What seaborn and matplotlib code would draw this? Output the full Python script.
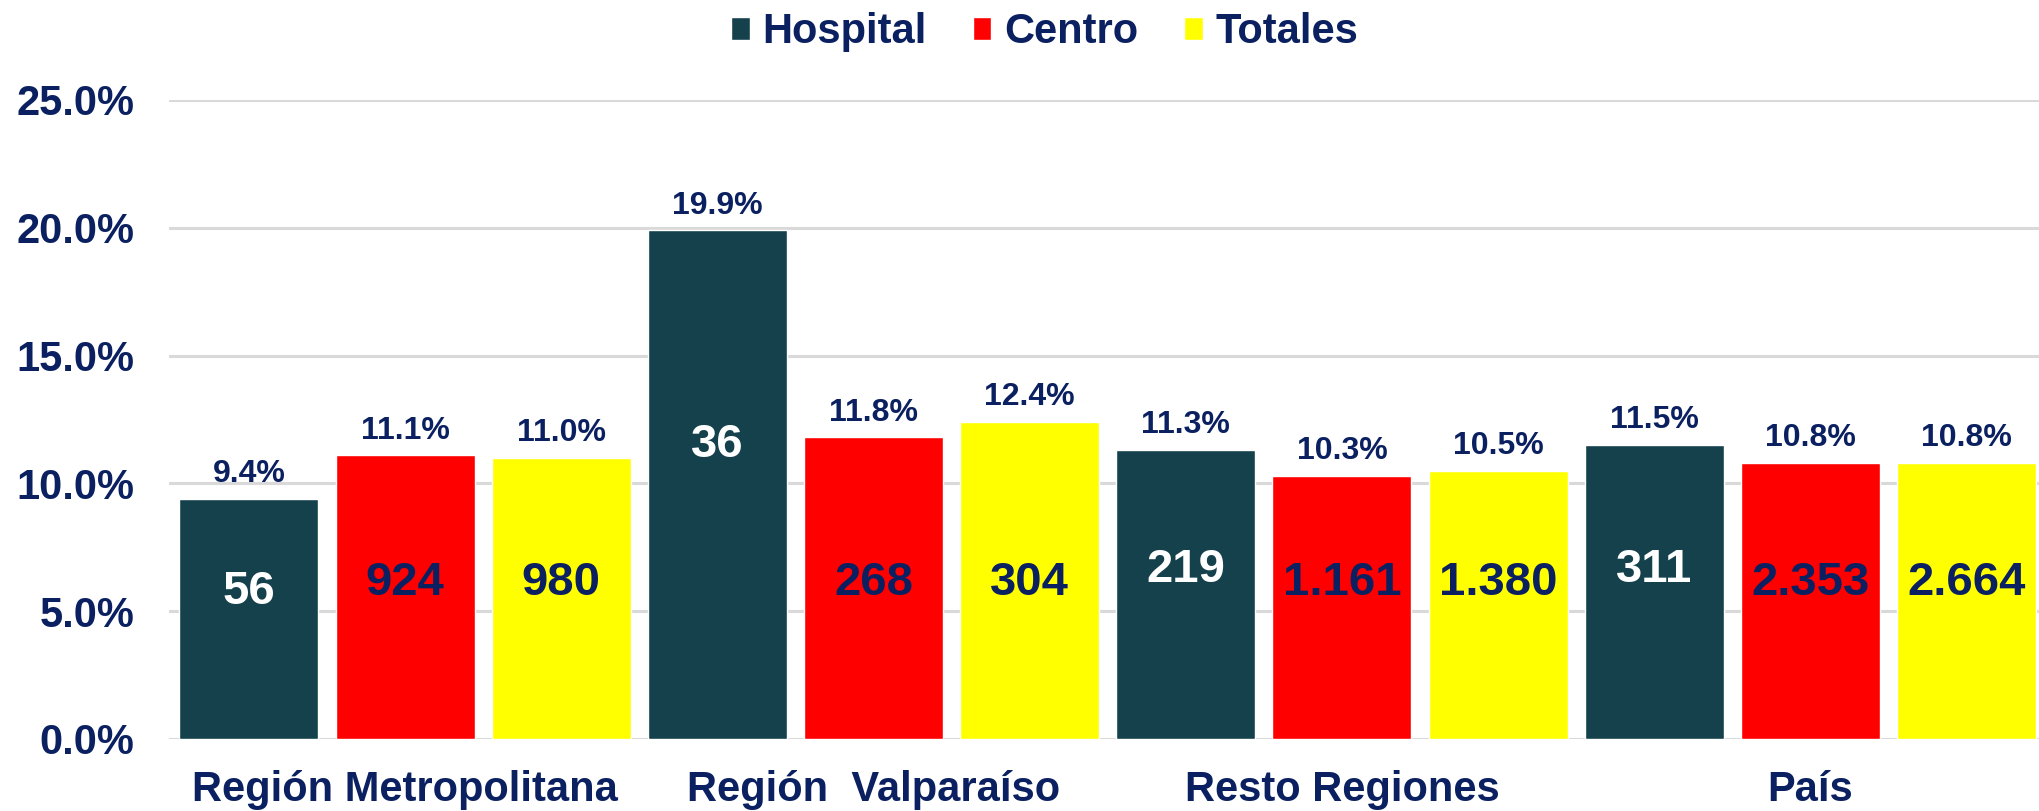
import numpy as np
import pandas as pd
import seaborn as sns
import matplotlib.pyplot as plt

regiones = ["Región Metropolitana", "Región  Valparaíso", "Resto Regiones", "País"]
tipos = ["Hospital", "Centro", "Totales"]

pct_hospital = [9.4, 19.9, 11.3, 11.5]
pct_centro = [11.1, 11.8, 10.3, 10.8]
pct_totales = [11.0, 12.4, 10.5, 10.8]

n_hospital = ["56", "36", "219", "311"]
n_centro = ["924", "268", "1.161", "2.353"]
n_totales = ["980", "304", "1.380", "2.664"]

# where the counts sit inside the bars (in %)
y_hospital = [5.75, 11.5, 6.6, 6.6]
y_centro = [6.1, 6.1, 6.1, 6.1]
y_totales = [6.1, 6.1, 6.1, 6.1]

navy = "#0B2060"
colores = ["#15414D", "#FF0000", "#FFFF00"]

df = pd.DataFrame({
    "region": regiones * 3,
    "tipo": [t for t in tipos for _ in regiones],
    "pct": pct_hospital + pct_centro + pct_totales,
    "n": n_hospital + n_centro + n_totales,
    "ny": y_hospital + y_centro + y_totales,
})

sns.set_style("white")
plt.rcParams["font.family"] = ["Liberation Sans", "DejaVu Sans"]
plt.rcParams["font.weight"] = "bold"

fig = plt.figure(figsize=(20.4, 8.11), dpi=100)
ax = fig.add_axes([0.0828, 0.0888, 0.9172, 0.7879])

sns.barplot(data=df, x="region", y="pct", hue="tipo", order=regiones, hue_order=tipos,
            palette=colores, width=1.0, gap=0.11, saturation=1, ax=ax, legend=True)

ax.set_ylim(0, 25)
ax.set_xlim(-0.504, 3.49)
ax.set_yticks(np.arange(0, 25.1, 5))
ax.set_yticklabels([f"{v:.1f}%" for v in np.arange(0, 25.1, 5)])
ax.yaxis.grid(True, color="#D9D9D9", linewidth=2.2)
ax.set_axisbelow(True)
for s in ax.spines.values():
    s.set_visible(False)
ax.tick_params(axis="y", length=0, pad=25, labelsize=30, labelcolor=navy)
ax.tick_params(axis="x", length=0, pad=22, labelsize=30, labelcolor=navy)
for lab in ax.get_xticklabels() + ax.get_yticklabels():
    lab.set_fontweight("bold")
ax.set_xlabel("")
ax.set_ylabel("")

for i, cont in enumerate(ax.containers):
    tipo = tipos[i]
    sub = df[df.tipo == tipo].set_index("region").loc[regiones]
    for bar, (_, row) in zip(cont, sub.iterrows()):
        cx = bar.get_x() + bar.get_width() / 2
        ax.annotate(f"{row.pct:.1f}%", (cx, bar.get_height()), xytext=(0, 7),
                    textcoords="offset points", ha="center", va="bottom",
                    fontsize=23, fontweight="bold", color=navy)
        col = "white" if tipo == "Hospital" else navy
        ax.text(cx, row.ny, row.n, ha="center", va="center", fontsize=34,
                fontweight="bold", color=col)

handles, labels = ax.get_legend_handles_labels()
ax.get_legend().remove()
fig.legend(handles, labels, loc="center", bbox_to_anchor=(0.512, 0.96), ncol=3,
           frameon=False, handlelength=0.45, handleheight=0.45,
           handletextpad=0.3, columnspacing=1.1, labelcolor=navy,
           prop={"weight": "bold", "size": 30})

fig.savefig("out.png", dpi=100)
